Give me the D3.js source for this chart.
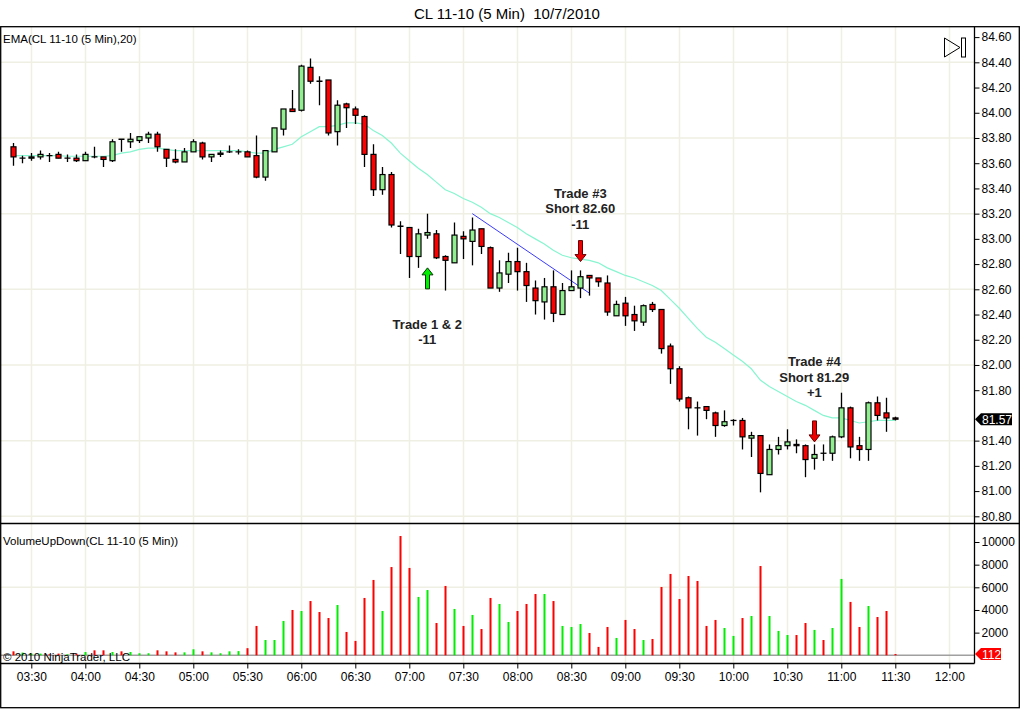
<!DOCTYPE html>
<html>
<head>
<meta charset="utf-8">
<script src="https://cdn.jsdelivr.net/npm/d3@7"></script>
<style>
  body { margin: 0; background: #fff; }
  text { font-family: "Liberation Sans", Arial, sans-serif; }
</style>
</head>
<body>
<svg id="chart" width="1024" height="709"></svg>
<script>
// OHLC of the 5 min bars, first bar 03:20
const opens = [83.73,83.64,83.64,83.65,83.66,83.67,83.64,83.64,83.62,83.65,83.65,83.62,83.79,83.77,83.78,83.80,83.83,83.71,83.63,83.61,
  83.69,83.76,83.65,83.67,83.69,83.69,83.69,83.66,83.49,83.69,83.87,84.03,84.02,84.36,84.25,84.26,83.85,84.07,84.03,83.97,
  83.67,83.39,83.51,83.10,83.09,82.86,83.03,83.04,82.86,82.81,83.02,82.98,83.08,82.93,82.61,82.72,82.82,82.74,82.61,82.50,
  82.62,82.40,82.59,82.61,82.71,82.69,82.65,82.39,82.49,82.40,82.34,82.48,82.44,82.15,81.97,81.74,81.66,81.67,81.62,81.52,
  81.56,81.56,81.42,81.44,81.13,81.33,81.36,81.37,81.36,81.26,81.30,81.30,81.43,81.66,81.36,81.33,81.70,81.62,81.58];
const highs = [83.76,83.66,83.68,83.70,83.68,83.69,83.67,83.67,83.69,83.73,83.65,83.79,83.79,83.84,83.81,83.85,83.85,83.71,83.71,83.72,
  83.79,83.77,83.67,83.70,83.74,83.71,83.70,83.82,83.70,83.88,84.03,84.18,84.38,84.43,84.29,84.26,84.10,84.08,84.05,83.98,
  83.75,83.57,83.53,83.14,83.09,83.08,83.20,83.07,82.87,83.13,83.06,83.17,83.08,82.94,82.83,82.89,82.93,82.81,82.67,82.69,
  82.75,82.65,82.75,82.75,82.71,82.69,82.71,82.51,82.54,82.47,82.48,82.50,82.44,82.17,81.99,81.75,81.71,81.67,81.63,81.64,
  81.57,81.58,81.47,81.44,81.37,81.43,81.49,81.41,81.37,81.37,81.37,81.44,81.78,81.67,81.43,81.71,81.75,81.74,81.59];
const lows = [83.58,83.60,83.62,83.63,83.61,83.64,83.61,83.61,83.62,83.64,83.57,83.61,83.69,83.72,83.76,83.76,83.69,83.57,83.60,83.61,
  83.69,83.63,83.61,83.65,83.68,83.67,83.65,83.48,83.46,83.69,83.82,84.01,84.01,84.23,84.06,83.82,83.74,83.88,83.91,83.57,
  83.34,83.35,83.09,82.88,82.69,82.77,83.00,82.84,82.59,82.81,82.84,82.79,82.88,82.61,82.58,82.65,82.59,82.50,82.40,82.36,
  82.34,82.40,82.59,82.53,82.55,82.62,82.39,82.39,82.31,82.27,82.31,82.42,82.09,81.85,81.71,81.49,81.44,81.57,81.43,81.51,
  81.52,81.33,81.27,80.99,81.13,81.29,81.33,81.30,81.11,81.17,81.24,81.24,81.42,81.26,81.24,81.24,81.56,81.47,81.56];
const closes = [83.65,83.64,83.65,83.67,83.655,83.64,83.64,83.62,83.67,83.645,83.63,83.77,83.785,83.79,83.81,83.83,83.73,83.64,83.61,83.69,
  83.77,83.65,83.67,83.68,83.69,83.69,83.65,83.49,83.70,83.88,84.03,84.01,84.37,84.25,84.245,83.84,84.06,84.04,83.98,83.67,
  83.39,83.51,83.11,83.095,82.86,83.04,83.05,82.85,82.83,83.03,83.00,83.07,82.94,82.61,82.73,82.82,82.74,82.63,82.51,82.62,
  82.41,82.59,82.62,82.70,82.69,82.66,82.42,82.48,82.39,82.35,82.47,82.44,82.13,81.97,81.73,81.66,81.655,81.64,81.52,81.55,
  81.56,81.43,81.44,81.14,81.33,81.36,81.39,81.36,81.25,81.29,81.295,81.43,81.66,81.35,81.33,81.70,81.60,81.58,81.57];
// EMA(20)
const ema20 = [83.66,83.66,83.66,83.66,83.66,83.66,83.655,83.655,83.655,83.655,83.655,83.66,83.68,83.69,83.71,83.72,83.72,83.71,83.70,83.70,
  83.70,83.70,83.70,83.70,83.70,83.70,83.69,83.68,83.68,83.71,83.73,83.75,83.81,83.85,83.89,83.89,83.90,83.92,83.92,83.91,
  83.86,83.82,83.76,83.68,83.62,83.56,83.51,83.45,83.39,83.36,83.32,83.29,83.25,83.20,83.17,83.13,83.09,83.04,83.00,82.96,
  82.91,82.87,82.85,82.84,82.83,82.81,82.77,82.74,82.71,82.69,82.66,82.63,82.59,82.52,82.45,82.37,82.29,82.22,82.18,82.13,
  82.08,82.03,81.97,81.88,81.83,81.79,81.75,81.71,81.68,81.64,81.60,81.58,81.58,81.56,81.54,81.55,81.56,81.56,81.56];
const volumes = [350,240,150,150,90,150,90,150,290,440,440,290,350,290,180,180,440,350,260,260,
  530,350,260,180,350,370,630,2590,1350,1350,3030,4000,3910,4790,3820,3290,4440,2060,1270,5060,
  6650,3910,7790,10530,7710,5150,5760,2850,6120,4090,2590,3560,2320,5060,4530,2940,3910,4530,5410,5410,
  4790,2590,2500,2760,1970,740,2500,1530,3120,2320,1350,1440,6030,7180,4970,7000,6560,2590,3120,2410,
  1710,3290,3470,7880,3470,2150,1790,1790,2850,2240,1350,2410,6740,4710,2500,4350,3380,3910,112];

const priceTicks = [80.80,81.00,81.20,81.40,81.60,81.80,82.00,82.20,82.40,82.60,82.80,83.00,83.20,83.40,83.60,83.80,84.00,84.20,84.40,84.60];
const priceGrid = [80.80,81.40,82.00,82.60,83.20,83.80,84.40];
const volumeTicks = [2000,4000,6000,8000,10000];
const volumeGrid = [6000];
const timeLabels = ["03:30","04:00","04:30","05:00","05:30","06:00","06:30","07:00","07:30","08:00","08:30","09:00","09:30","10:00","10:30","11:00","11:30","12:00"];

// trade notes: bar index, price of first text line, lines
const noteBars = [46, 63, 89];
const notePrices = [82.285, 83.324, 81.988];
const noteLines = [["Trade 1 & 2", "-11"], ["Trade #3", "Short 82.60", "-11"], ["Trade #4", "Short 81.29", "+1"]];
// arrows: bar, tip price, direction
const arrowBars = [46, 63, 89];
const arrowTips = [82.77, 82.82, 81.39];
const arrowDirs = ["up", "down", "down"];
// hand drawn trend line
const trendBars = [51, 64];
const trendPrices = [83.20, 82.57];

const W = 1024, H = 709;
const plotRight = 974, priceTop = 27, priceBottom = 523.5, volBottom = 663.5;

const day = (h, m) => new Date(2010, 9, 7, h, m);
const barTime = i => d3.timeMinute.offset(day(3, 20), 5 * i);
const parseHM = s => { const [h, m] = s.split(":"); return day(+h, +m); };

const x = d3.scaleTime().domain([day(3, 20), day(12, 0)]).range([13.3, 949.3]);
const y = d3.scaleLinear().domain([80.80, 84.60]).range([516.3, 37.1]);
const yv = d3.scaleLinear().domain([0, 10000]).range([655.3, 542]);

const lastClose = closes[closes.length - 1];
const lastVolume = volumes[volumes.length - 1];

const svg = d3.select("#chart");
svg.append("rect").attr("width", W).attr("height", H).attr("fill", "#fff");

// title
svg.append("text").attr("x", 507).attr("y", 19).attr("text-anchor", "middle")
  .style("font-size", "15px").style("white-space", "pre").text("CL 11-10 (5 Min)  10/7/2010");

const defs = svg.append("defs");
defs.append("clipPath").attr("id", "priceClip").append("rect")
  .attr("x", 0).attr("y", priceTop).attr("width", plotRight).attr("height", priceBottom - priceTop);
defs.append("clipPath").attr("id", "volClip").append("rect")
  .attr("x", 0).attr("y", priceBottom).attr("width", plotRight).attr("height", volBottom - priceBottom);

const gridColor = "#efefe3";
const tickTimes = timeLabels.map(parseHM);

// vertical grid, both panels
svg.append("g").selectAll("line").data(tickTimes).enter().append("line")
  .attr("x1", d => Math.round(x(d)) + 0.5).attr("x2", d => Math.round(x(d)) + 0.5)
  .attr("y1", priceTop).attr("y2", volBottom)
  .attr("stroke", gridColor).attr("stroke-width", 1.5);

// horizontal grid
svg.append("g").selectAll("line").data(priceGrid).enter().append("line")
  .attr("x1", 0).attr("x2", plotRight).attr("y1", d => y(d)).attr("y2", d => y(d))
  .attr("stroke", gridColor).attr("stroke-width", 1.5);
svg.append("g").selectAll("line").data(volumeGrid).enter().append("line")
  .attr("x1", 0).attr("x2", plotRight).attr("y1", d => yv(d)).attr("y2", d => yv(d))
  .attr("stroke", gridColor).attr("stroke-width", 1.5);

// price panel
const price = svg.append("g").attr("clip-path", "url(#priceClip)");
const bars = d3.range(opens.length);

// EMA line
price.append("path")
  .datum(bars)
  .attr("d", d3.line().x(i => x(barTime(i))).y(i => y(ema20[i])))
  .attr("fill", "none").attr("stroke", "#86f5d0").attr("stroke-width", 1.2);

// trend line
price.append("line")
  .attr("x1", x(barTime(trendBars[0]))).attr("y1", y(trendPrices[0]))
  .attr("x2", x(barTime(trendBars[1]))).attr("y2", y(trendPrices[1]))
  .attr("stroke", "#3a3aff").attr("stroke-width", 1);

// candles
const candle = price.append("g").selectAll("g").data(bars).enter().append("g");
candle.append("line")
  .attr("x1", i => Math.round(x(barTime(i))) + 0.5).attr("x2", i => Math.round(x(barTime(i))) + 0.5)
  .attr("y1", i => y(highs[i])).attr("y2", i => y(lows[i]))
  .attr("stroke", "#000").attr("stroke-width", 1.3);
candle.filter(i => Math.abs(opens[i] - closes[i]) >= 0.008).append("rect")
  .attr("x", i => Math.round(x(barTime(i))) - 2)
  .attr("y", i => y(Math.max(opens[i], closes[i])))
  .attr("width", 5)
  .attr("height", i => Math.abs(y(opens[i]) - y(closes[i])))
  .attr("fill", i => closes[i] >= opens[i] ? "#90ee90" : "#ff0000")
  .attr("stroke", "#000").attr("stroke-width", 1.2);
candle.filter(i => Math.abs(opens[i] - closes[i]) < 0.008).append("line")
  .attr("x1", i => Math.round(x(barTime(i))) - 2.5).attr("x2", i => Math.round(x(barTime(i))) + 3.5)
  .attr("y1", i => y(opens[i])).attr("y2", i => y(opens[i]))
  .attr("stroke", "#000").attr("stroke-width", 1.3);

// arrows
const arrowPath = "M0,0 L-5.5,-7 L-2,-7 L-2,-21 L2,-21 L2,-7 L5.5,-7 Z";
arrowBars.forEach((b, k) => {
  const up = arrowDirs[k] === "up";
  price.append("path")
    .attr("d", arrowPath)
    .attr("transform", `translate(${Math.round(x(barTime(b))) + 0.5},${y(arrowTips[k])}) rotate(${up ? 180 : 0})`)
    .attr("fill", up ? "#00ee00" : "#ee0000")
    .attr("stroke", up ? "#003300" : "#660000").attr("stroke-width", 1);
});

// trade notes
noteBars.forEach((b, k) => {
  const t = price.append("text")
    .attr("x", x(barTime(b))).attr("y", y(notePrices[k]))
    .attr("text-anchor", "middle")
    .style("font-size", "13px").style("font-weight", "bold").attr("fill", "#222");
  noteLines[k].forEach((s, j) => {
    t.append("tspan").attr("x", x(barTime(b))).attr("dy", j === 0 ? 0 : 15.3).text(s);
  });
});

// volume panel
const vol = svg.append("g").attr("clip-path", "url(#volClip)");
vol.append("line").attr("x1", 0).attr("x2", plotRight).attr("y1", yv(0)).attr("y2", yv(0))
  .attr("stroke", "#a0a0a0").attr("stroke-width", 1.5);
vol.selectAll("rect.vol").data(bars).enter().append("rect")
  .attr("class", "vol")
  .attr("x", i => Math.round(x(barTime(i))) - 0.5)
  .attr("y", i => yv(volumes[i]))
  .attr("width", 2)
  .attr("height", i => yv(0) - yv(volumes[i]))
  .attr("fill", i => closes[i] >= opens[i] ? "#00ee00" : "#ff0000");

// frames
const frame = svg.append("g").attr("stroke", "#000").attr("stroke-width", 1.3).attr("fill", "none");
frame.append("rect").attr("x", 0.7).attr("y", 26.7).attr("width", 1018.6).attr("height", 681);
frame.append("line").attr("x1", 0).attr("x2", 1020).attr("y1", priceBottom).attr("y2", priceBottom);
frame.append("line").attr("x1", plotRight + 0.5).attr("x2", plotRight + 0.5).attr("y1", priceTop).attr("y2", volBottom);
frame.append("line").attr("x1", 0).attr("x2", plotRight + 0.5).attr("y1", volBottom).attr("y2", volBottom);

// axes (labels hidden behind the last value tag are dropped)
const styleAxis = g => {
  g.select(".domain").remove();
  g.selectAll(".tick line").attr("stroke", "#000");
  g.selectAll(".tick text").attr("fill", "#000").style("font-size", "12px")
    .style("font-family", "'Liberation Sans', Arial, sans-serif");
};
const shownPriceTicks = priceTicks.filter(p => Math.abs(y(p) - y(lastClose)) > 11);
svg.append("g").attr("transform", `translate(${plotRight + 0.5},0)`)
  .call(d3.axisRight(y).tickValues(shownPriceTicks).tickFormat(d3.format(".2f")).tickSize(5).tickPadding(2))
  .call(styleAxis);
svg.append("g").attr("transform", `translate(${plotRight + 0.5},0)`)
  .call(d3.axisRight(yv).tickValues(volumeTicks).tickFormat(d3.format("d")).tickSize(5).tickPadding(2))
  .call(styleAxis);
svg.append("g").attr("transform", `translate(0,${volBottom})`)
  .call(d3.axisBottom(x).tickValues(tickTimes).tickFormat(d3.timeFormat("%H:%M")).tickSize(5).tickPadding(4))
  .call(styleAxis);

// last value tags
const tag = (yy, w, fill, label) => {
  const g = svg.append("g").attr("transform", `translate(${plotRight + 1},${yy})`);
  g.append("path").attr("d", `M0,0 L6,-6 L${w},-6 L${w},6 L6,6 Z`).attr("fill", fill);
  g.append("text").attr("x", 7).attr("y", 4.5).attr("fill", "#fff").style("font-size", "12px").text(label);
};
tag(y(lastClose), 37, "#000", d3.format(".2f")(lastClose));
tag(yv(lastVolume), 26, "#ff0000", lastVolume);

// panel labels
svg.append("text").attr("x", 3).attr("y", 43).style("font-size", "11.5px").text("EMA(CL 11-10 (5 Min),20)");
svg.append("text").attr("x", 3).attr("y", 545).style("font-size", "11.5px").text("VolumeUpDown(CL 11-10 (5 Min))");
svg.append("text").attr("x", 3).attr("y", 661).style("font-size", "11.5px").text("\u00a9 2010 NinjaTrader, LLC");

// go-to-end icon
const icon = svg.append("g").attr("fill", "none").attr("stroke", "#000").attr("stroke-width", 1);
icon.append("path").attr("d", "M944.5,38 L944.5,57 L960,47.5 Z");
icon.append("rect").attr("x", 961.5).attr("y", 38).attr("width", 4).attr("height", 19);
</script>
</body>
</html>
